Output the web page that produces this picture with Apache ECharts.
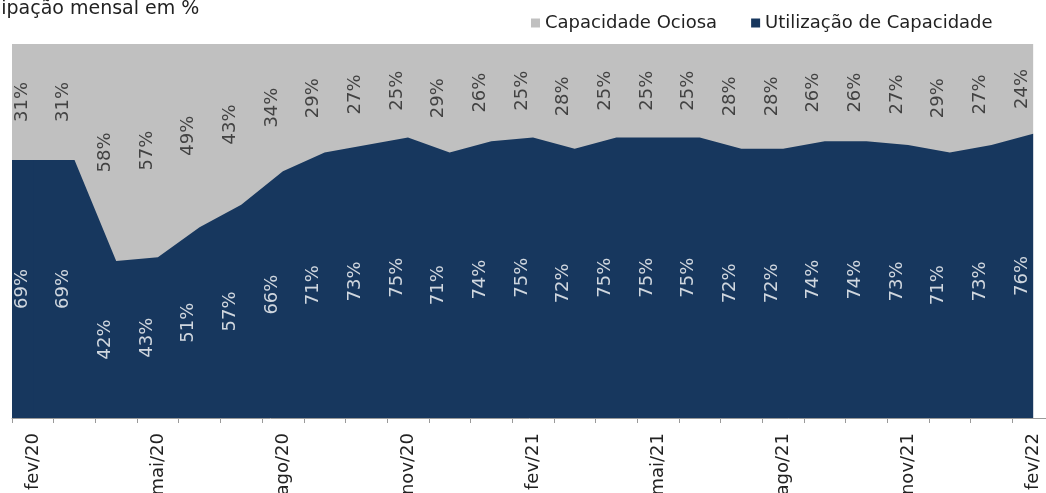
<!DOCTYPE html>
<html>
<head>
<meta charset="utf-8">
<script src="https://cdn.jsdelivr.net/npm/echarts@6/dist/echarts.min.js"></script>
<style>
html,body{margin:0;padding:0;background:#fff;}
#chart{width:1046px;height:493px;}
</style>
</head>
<body>
<div id="chart"></div>
<script>
const months = ['fev/20','mar/20','abr/20','mai/20','jun/20','jul/20','ago/20','set/20','out/20','nov/20','dez/20','jan/21','fev/21','mar/21','abr/21','mai/21','jun/21','jul/21','ago/21','set/21','out/21','nov/21','dez/21','jan/22','fev/22'];
const utilizacao = [69,69,42,43,51,57,66,71,73,75,71,74,75,72,75,75,75,72,72,74,74,73,71,73,76];
const ociosa = [31,31,58,57,49,43,34,29,27,25,29,26,25,28,25,25,25,28,28,26,26,27,29,27,24];

const NAVY = '#17375E';
const GRAY = '#C0C0C0';
const FONT = 'DejaVu Sans';

const chart = echarts.init(document.getElementById('chart'), null, {renderer: 'canvas'});

// cumulative top of each stacked band
const utilTop = utilizacao.map((v, i) => [i, v]);
const ocioTop = ociosa.map((v, i) => [i, utilizacao[i] + v]);
const utilLabelPts = utilizacao.map((v, i) => [i, v / 2]);
const ocioLabelPts = ociosa.map((v, i) => [i, utilizacao[i] + v / 2]);

chart.setOption({
  animation: false,
  title: {
    text: 'Participação mensal em %',
    left: -52,
    top: 0,
    padding: 0,
    textStyle: {fontFamily: FONT, fontSize: 19, fontWeight: 'normal', color: '#222'}
  },
  legend: {
    data: ['Capacidade Ociosa', 'Utilização de Capacidade'],
    left: 526,
    top: 9,
    icon: 'rect',
    itemWidth: 9,
    itemHeight: 9,
    itemGap: 34,
    textStyle: {fontFamily: FONT, fontSize: 18, color: '#222'}
  },
  grid: {left: 12, top: 44, bottom: 75, width: 1042, containLabel: false, outerBoundsMode: 'none'},
  xAxis: [
    {
      type: 'category',
      data: months,
      boundaryGap: true,
      axisLine: {show: true, lineStyle: {color: '#9a9a9a', width: 1}},
      axisTick: {show: true, interval: 0, length: 5, lineStyle: {color: '#9a9a9a'}},
      axisLabel: {interval: 2, rotate: 90, margin: 15, fontFamily: FONT, fontSize: 18, color: '#222', hideOverlap: false},
      splitLine: {show: false}
    },
    {
      type: 'value',
      min: -0.5,
      max: 24.5,
      show: false,
      splitLine: {show: false}
    }
  ],
  yAxis: {type: 'value', min: 0, max: 100, show: false, splitLine: {show: false}},
  series: [
    {
      name: 'Capacidade Ociosa',
      type: 'line',
      xAxisIndex: 1,
      data: ocioTop,
      symbol: 'none',
      lineStyle: {width: 0},
      itemStyle: {color: GRAY},
      areaStyle: {color: GRAY, opacity: 1},
      z: 1,
      markArea: {
        silent: true,
        z: 10,
        data: [
          [{xAxis: -0.5, yAxis: utilizacao[0], itemStyle: {color: GRAY, opacity: 1, borderWidth: 0}}, {xAxis: 0.02, yAxis: utilizacao[0] + ociosa[0]}]
        ]
      }
    },
    {
      name: 'Utilização de Capacidade',
      type: 'line',
      xAxisIndex: 1,
      data: utilTop,
      symbol: 'none',
      lineStyle: {width: 0},
      itemStyle: {color: NAVY},
      areaStyle: {color: NAVY, opacity: 1},
      z: 2,
      markArea: {
        silent: true,
        z: 10,
        data: [
          [{xAxis: -0.5, yAxis: 0, itemStyle: {color: NAVY, opacity: 1, borderWidth: 0}}, {xAxis: 0.02, yAxis: utilizacao[0]}]
        ]
      }
    },
    {
      type: 'scatter',
      xAxisIndex: 1,
      data: utilLabelPts,
      symbolSize: 1,
      itemStyle: {color: 'rgba(0,0,0,0)'},
      silent: true,
      z: 20,
      label: {
        show: true, position: 'inside', rotate: 90, offset: [0, -11],
        fontFamily: FONT, fontSize: 18, color: '#ffffff',
        formatter: p => utilizacao[p.dataIndex] + '%'
      }
    },
    {
      type: 'scatter',
      xAxisIndex: 1,
      data: ocioLabelPts,
      symbolSize: 1,
      itemStyle: {color: 'rgba(0,0,0,0)'},
      silent: true,
      z: 20,
      label: {
        show: true, position: 'inside', rotate: 90, offset: [0, -11],
        fontFamily: FONT, fontSize: 18, color: '#222',
        formatter: p => ociosa[p.dataIndex] + '%'
      }
    }
  ]
});
</script>
</body>
</html>
